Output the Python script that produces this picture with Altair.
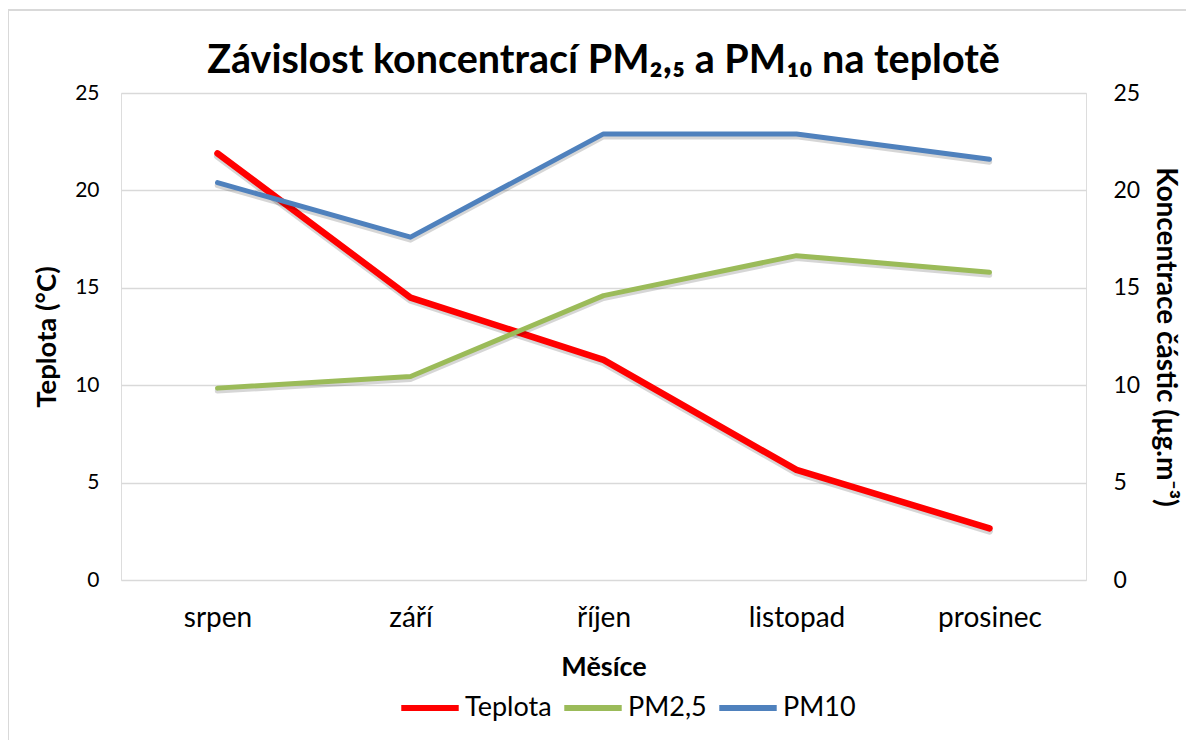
import altair as alt
import pandas as pd

months = ["srpen", "září", "říjen", "listopad", "prosinec"]
teplota = [21.9, 14.5, 11.3, 5.65, 2.65]
pm25 = [9.85, 10.45, 14.6, 16.65, 15.8]
pm10 = [20.4, 17.6, 22.9, 22.9, 21.6]
series_names = ["Teplota", "PM2,5", "PM10"]
series_colors = ["#FF0000", "#9BBB59", "#4F81BD"]

rows = []
for name, vals in zip(series_names, [teplota, pm25, pm10]):
    for m, v in zip(months, vals):
        rows.append({"month": m, "series": name, "value": v})
df = pd.DataFrame(rows)

FONT = "Lato"
GRID = "#D9D9D9"

x_enc = alt.X(
    "month:N",
    sort=months,
    scale=alt.Scale(type="point", padding=0.5),
    axis=alt.Axis(
        title="Měsíce",
        titleFont=FONT,
        titleFontSize=27,
        titleFontWeight="bold",
        titleColor="black",
        titlePadding=22,
        labelFont=FONT,
        labelFontSize=28,
        labelColor="black",
        labelPadding=24,
        labelAngle=0,
        domain=False,
        ticks=False,
        grid=False,
    ),
)

color_enc = alt.Color(
    "series:N",
    scale=alt.Scale(domain=series_names, range=series_colors),
    legend=alt.Legend(
        title=None,
        orient="none",
        direction="horizontal",
        legendX=277,
        legendY=583,
        symbolType="stroke",
        symbolSize=3300,
        symbolStrokeWidth=6,
        labelFont=FONT,
        labelFontSize=27,
        labelColor="black",
        labelOffset=3,
        columnPadding=0,
    ),
)

base = alt.Chart(df)
temp_data = base.transform_filter(alt.datum.series == "Teplota")
pm_data = base.transform_filter(alt.datum.series != "Teplota")

temp_shadow = temp_data.mark_line(
    strokeWidth=7, strokeCap="round", strokeJoin="round", color="#000000", opacity=0.16
).encode(x=x_enc, y=alt.Y("value:Q", scale=alt.Scale(domain=[0.14, 25.14]), axis=None))

pm_shadow = pm_data.mark_line(
    strokeWidth=5.5, strokeCap="round", strokeJoin="round", color="#000000", opacity=0.16
).encode(
    x=x_enc,
    y=alt.Y("value:Q", scale=alt.Scale(domain=[0.14, 25.14]), axis=None),
    detail="series:N",
)

left = temp_data.mark_line(
    strokeWidth=6.5, strokeCap="round", strokeJoin="round"
).encode(
    x=x_enc,
    y=alt.Y(
        "value:Q",
        scale=alt.Scale(domain=[0, 25]),
        axis=alt.Axis(
            orient="left",
            title="Teplota (°C)",
            titleFont=FONT,
            titleFontSize=27.5,
            titleFontWeight="bold",
            titleColor="black",
            titlePadding=13,
            labelFont=FONT,
            labelFontSize=21,
            labelColor="black",
            labelPadding=22,
            values=[0, 5, 10, 15, 20, 25],
            domain=False,
            ticks=False,
            grid=True,
            gridColor=GRID,
            gridWidth=1.5,
        ),
    ),
    color=color_enc,
)

right = pm_data.mark_line(
    strokeWidth=5, strokeCap="round", strokeJoin="round"
).encode(
    x=x_enc,
    y=alt.Y(
        "value:Q",
        scale=alt.Scale(domain=[0, 25]),
        axis=alt.Axis(
            orient="right",
            title="Koncentrace částic  (µg.m⁻³)",
            titleFont=FONT,
            titleFontSize=28,
            titleFontWeight="bold",
            titleColor="black",
            titlePadding=11,
            labelFont=FONT,
            labelFontSize=23,
            labelColor="black",
            labelPadding=27,
            values=[0, 5, 10, 15, 20, 25],
            domain=False,
            ticks=False,
            grid=False,
        ),
    ),
    color=color_enc,
)

frame_src = alt.Chart(pd.DataFrame({"k": [0]}))
border_left = frame_src.mark_rule(color=GRID, strokeWidth=2).encode(
    x=alt.value(-113), y=alt.value(-83), y2=alt.value(660)
)
border_top = frame_src.mark_rule(color=GRID, strokeWidth=2).encode(
    x=alt.value(-113), x2=alt.value(1080), y=alt.value(-83)
)

chart = (
    alt.layer(border_left, border_top, temp_shadow, left, pm_shadow, right)
    .resolve_scale(y="independent")
    .properties(
        width=965,
        height=487,
        padding={"left": 113, "top": 85, "right": 100, "bottom": 160},
        autosize=alt.AutoSizeParams(type="none"),
        title=alt.TitleParams(
            text="Závislost koncentrací PM₂,₅ a PM₁₀ na teplotě",
            font=FONT,
            fontSize=39.5,
            fontWeight="bold",
            color="black",
            anchor="middle",
            offset=0,
            dy=72,
        ),
    )
    .configure_view(stroke=None)
    .configure(background="white")
)

chart.save("out.html", embed_options={"renderer": "svg", "actions": False})
